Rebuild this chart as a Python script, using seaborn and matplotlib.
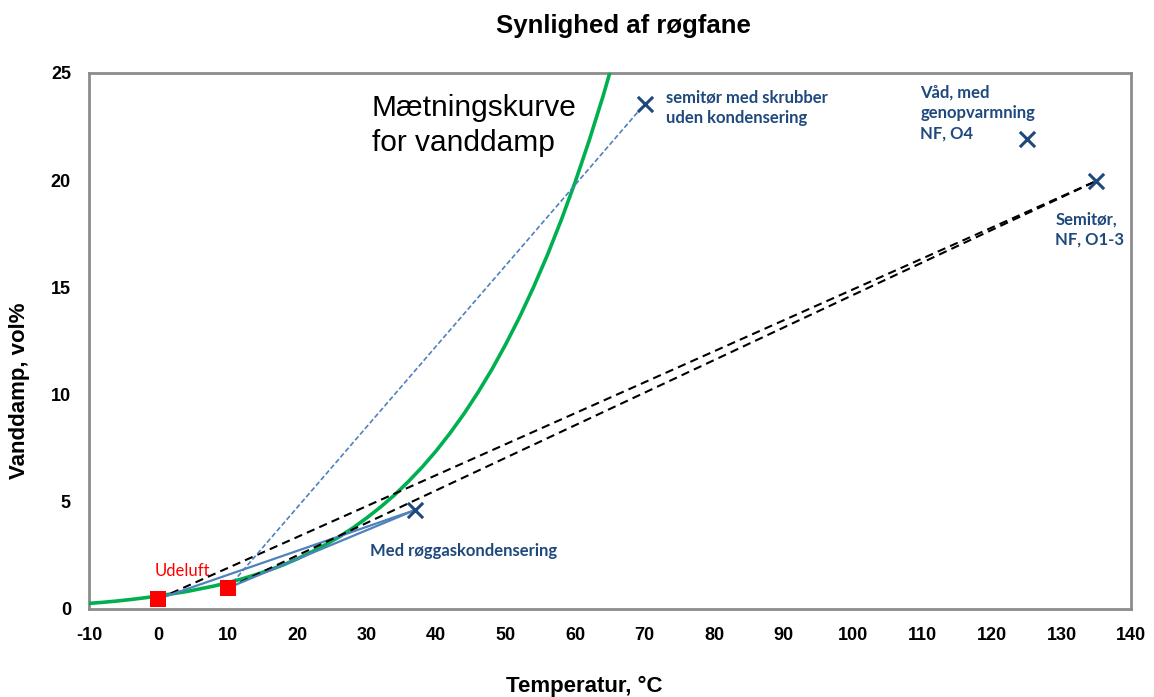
import matplotlib
matplotlib.use('Agg')
import matplotlib.pyplot as plt
import seaborn as sns
import pandas as pd

# mætningskurve (vanddamp, vol%) aflæst fra kurven
sat_temp = [-10, -8, -6, -4, -2, 0, 2, 4, 6, 8, 10, 12, 14, 16, 18, 20, 22, 24, 26, 28,
            30, 32, 34, 36, 38, 40, 42, 44, 46, 48, 50, 52, 54, 56, 58, 60, 62, 64, 66]
sat_vol = [0.26, 0.31, 0.37, 0.44, 0.52, 0.61, 0.71, 0.81, 0.94, 1.07, 1.23, 1.40, 1.60,
           1.82, 2.06, 2.34, 2.65, 2.99, 3.36, 3.78, 4.25, 4.76, 5.32, 5.95, 6.63, 7.38,
           8.21, 9.11, 10.10, 11.17, 12.35, 13.62, 15.01, 16.51, 18.15, 19.92, 21.84, 23.91, 26.15]

# udeluft (røde firkanter)
ude_temp = [0, 10]
ude_vol = [0.47, 0.98]

# røggas-punkter (kryds)
gas_temp = [37, 70, 125, 135]
gas_vol = [4.62, 23.55, 21.9, 19.96]
gas_text = ['Med røggaskondensering', 'semitør med skrubber\nuden kondensering',
            'Våd, med\ngenopvarmning\nNF, O4', 'Semitør,\nNF, O1-3']

sns.set_theme(style='white')
plt.rcParams['font.family'] = ['Liberation Sans', 'DejaVu Sans']
plt.rcParams['axes.unicode_minus'] = False
plt.rcParams['text.color'] = 'black'
plt.rcParams['axes.labelcolor'] = 'black'
plt.rcParams['xtick.color'] = 'black'
plt.rcParams['ytick.color'] = 'black'

fig = plt.figure(figsize=(11.54, 6.97), dpi=100)
ax = fig.add_axes([0.0771, 0.1263, 0.9029, 0.769])

sat = pd.DataFrame({'t': sat_temp, 'v': sat_vol})
sns.lineplot(data=sat, x='t', y='v', ax=ax, color='#00B050', lw=2.6, zorder=3)

# blandingslinjer
blue = '#4F81BD'
for i in range(2):
    ax.plot([ude_temp[i], gas_temp[3]], [ude_vol[i], gas_vol[3]], color='black', ls=(0, (4, 2.5)), lw=1.5, zorder=4)
    ax.plot([ude_temp[i], gas_temp[0]], [ude_vol[i], gas_vol[0]], color=blue, lw=1.6, zorder=4)
ax.plot([ude_temp[1], gas_temp[1]], [ude_vol[1], gas_vol[1]], color=blue, ls=(0, (3, 1.5)), lw=1.2, zorder=4)

sns.scatterplot(x=gas_temp, y=gas_vol, ax=ax, marker='x', s=120, color='#1F497D', linewidth=2.2, zorder=6)
sns.scatterplot(x=ude_temp, y=ude_vol, ax=ax, marker='s', s=140, color='#FF0000', linewidth=0, zorder=5)

lab = dict(color='#1F497D', fontsize=12, fontweight='bold', family=['Lato', 'DejaVu Sans'], linespacing=1.35)
ax.text(30.4, 2.7, gas_text[0], va='center', ha='left', **lab)
ax.text(73, 23.37, gas_text[1], va='center', ha='left', **lab)
ax.text(109.7, 23.13, gas_text[2], va='center', ha='left', **lab)
ax.text(129.1, 17.7, gas_text[3], va='center', ha='left', **lab)
ax.text(-0.5, 1.75, 'Udeluft', color='#FF0000', fontsize=12, family=['Lato', 'DejaVu Sans'], ha='left', va='center')
ax.text(30.7, 22.55, 'Mætningskurve\nfor vanddamp', fontsize=21.5, color='black', ha='left', va='center', linespacing=1.3)

ax.set_xlim(-10, 140)
ax.set_ylim(0, 25)
ax.set_xticks(range(-10, 141, 10))
ax.set_yticks(range(0, 26, 5))
ax.tick_params(axis='both', direction='out', length=5, width=1, color='#333333', labelsize=13, pad=8)
for t in ax.get_xticklabels() + ax.get_yticklabels():
    t.set_fontweight('bold')
for s in ax.spines.values():
    s.set_visible(True)
    s.set_color('#8C8C8C')
    s.set_linewidth(2)

ax.set_xlabel('Temperatur, °C', fontsize=16, fontweight='bold')
ax.set_ylabel('Vanddamp, vol%', fontsize=16, fontweight='bold')
ax.xaxis.set_label_coords(0.475, -0.124)
ax.yaxis.set_label_coords(-0.057, 0.407)
fig.suptitle('Synlighed af røgfane', fontsize=18.5, fontweight='bold', y=0.98, x=0.54)

plt.savefig('out.png')
plt.close()
